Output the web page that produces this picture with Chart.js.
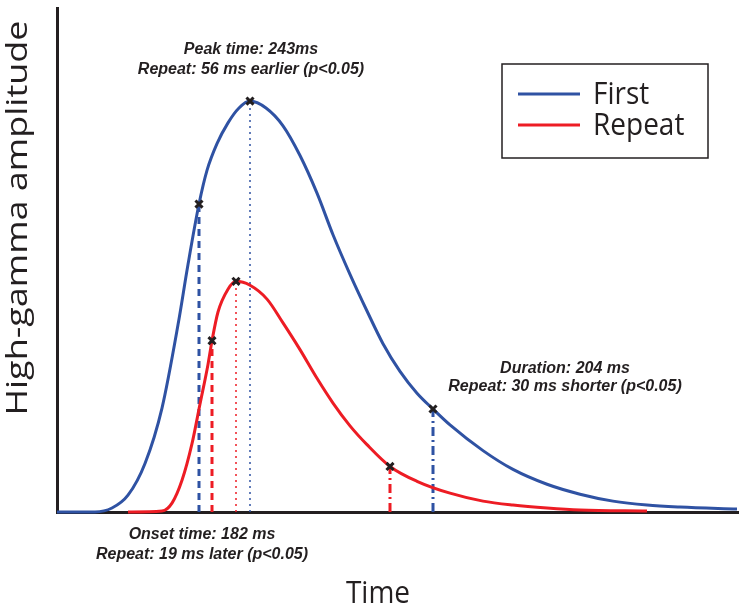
<!DOCTYPE html>
<html>
<head>
<meta charset="utf-8">
<script src="https://cdn.jsdelivr.net/npm/chart.js@4"></script>
<style>
  html, body { margin: 0; padding: 0; background: #fff; }
  #wrap { position: relative; width: 750px; height: 607px; }
</style>
</head>
<body>
<div id="wrap"><canvas id="chart" width="750" height="607"></canvas></div>
<script>
// time and amplitude are arbitrary units (schematic figure, no ticks)
const firstTime = [0, 38, 55, 71, 88, 105, 121, 131, 142, 150, 160, 171, 182, 193, 209, 226, 243, 260, 276, 293, 310, 326, 343, 360, 376, 393, 426, 456, 490, 523, 556, 590, 623, 680];
const firstAmp = [0, 0, 4, 17, 49, 105, 189, 250, 311, 345, 372, 393, 408, 415, 408, 390, 360, 322, 280, 240, 203, 170, 142, 120, 104, 88, 62, 43, 28, 18, 11, 7, 5, 3];

const repeatTime = [71, 105, 115, 125, 135, 143, 151, 155, 161, 171, 179, 193, 210, 226, 243, 260, 276, 293, 310, 333, 360, 393, 426, 456, 490, 523, 590];
const repeatAmp = [0, 1, 9, 32, 69, 109, 149, 173, 202, 225, 233, 229, 215, 191, 164, 135, 110, 87, 68, 46, 31, 19, 11, 7, 4, 2, 1];

// onset, peak, offset
const firstEventTime = [142, 193, 376];
const firstEventAmp = [311, 415, 104];
const repeatEventTime = [155, 179, 333];
const repeatEventAmp = [173, 233, 46];

const seriesNames = ["First", "Repeat"];

const ink = "#231f20";
const blue = "#2f52a3";
const red = "#ed1c24";

function toPoints(xs, ys) {
  return xs.map((x, i) => ({ x: x, y: ys[i] }));
}

// dash style per event: onset dashed, peak dotted, offset dash-dot
const guideStyles = [
  { dash: [7, 5], width: 3 },
  { dash: [2, 4], width: 1.5 },
  { dash: [9, 4, 2, 4], width: 3 },
];

function guideLines(times, amps, color) {
  return times.map((t, i) => ({
    data: [{ x: t, y: 0 }, { x: t, y: amps[i] }],
    borderColor: color,
    borderWidth: guideStyles[i].width,
    borderDash: guideStyles[i].dash,
    pointRadius: 0,
    clip: false,
    order: 3,
  }));
}

const annotations = [
  { lines: ["Peak time: 243ms", "Repeat: 56 ms earlier (p<0.05)"], x: 251, y: 54, gap: 20 },
  { lines: ["Duration: 204 ms", "Repeat: 30 ms shorter (p<0.05)"], x: 565, y: 373, gap: 18 },
  { lines: ["Onset time: 182 ms", "Repeat: 19 ms later (p<0.05)"], x: 202, y: 539, gap: 20 },
];

const textPlugin = {
  id: "textPlugin",
  afterDraw(chart) {
    const ctx = chart.ctx;
    ctx.save();
    ctx.fillStyle = ink;

    // annotations
    ctx.font = 'italic bold 16px "Liberation Sans"';
    ctx.textAlign = "center";
    ctx.textBaseline = "alphabetic";
    annotations.forEach((a) => {
      a.lines.forEach((line, i) => ctx.fillText(line, a.x, a.y + i * a.gap));
    });

    // legend box
    ctx.strokeStyle = ink;
    ctx.lineWidth = 1.5;
    ctx.strokeRect(502, 64, 206, 94);
    const legendColors = [blue, red];
    const rowY = [94, 125];
    ctx.lineWidth = 3;
    ctx.font = '28px "Open Sans"';
    ctx.textAlign = "left";
    seriesNames.forEach((name, i) => {
      ctx.strokeStyle = legendColors[i];
      ctx.beginPath();
      ctx.moveTo(518, rowY[i]);
      ctx.lineTo(580, rowY[i]);
      ctx.stroke();
      ctx.save();
      ctx.translate(593, rowY[i] + 10);
      ctx.scale(1, 1.08);
      ctx.fillText(name, 0, 0);
      ctx.restore();
    });

    // axis titles
    ctx.textAlign = "center";
    ctx.save();
    ctx.translate(378, 603);
    ctx.scale(1, 1.08);
    ctx.fillText("Time", 0, 0);
    ctx.restore();

    ctx.font = '30px "Open Sans"';
    ctx.save();
    ctx.translate(27, 218);
    ctx.rotate(-Math.PI / 2);
    ctx.scale(1.2, 1);
    ctx.fillText("High-gamma amplitude", 0, 0);
    ctx.restore();

    ctx.restore();
  },
};

const ctx = document.getElementById("chart").getContext("2d");

new Chart(ctx, {
  type: "line",
  data: {
    datasets: [
      {
        label: "markers",
        data: toPoints(firstEventTime.concat(repeatEventTime), firstEventAmp.concat(repeatEventAmp)),
        showLine: false,
        pointStyle: "crossRot",
        pointRadius: 5,
        pointBorderWidth: 3,
        pointBorderColor: ink,
        pointBackgroundColor: ink,
        clip: false,
        order: 0,
      },
      {
        label: seriesNames[0],
        data: toPoints(firstTime, firstAmp),
        borderColor: blue,
        borderWidth: 3,
        pointRadius: 0,
        cubicInterpolationMode: "monotone",
        clip: false,
        order: 1,
      },
      {
        label: seriesNames[1],
        data: toPoints(repeatTime, repeatAmp),
        borderColor: red,
        borderWidth: 3,
        pointRadius: 0,
        cubicInterpolationMode: "monotone",
        clip: false,
        order: 2,
      },
      ...guideLines(firstEventTime, firstEventAmp, blue),
      ...guideLines(repeatEventTime, repeatEventAmp, red),
    ],
  },
  options: {
    responsive: false,
    animation: false,
    devicePixelRatio: 1,
    layout: {
      padding: { left: 57, top: 3, right: 12, bottom: 95 },
    },
    plugins: {
      legend: { display: false },
      tooltip: { enabled: false },
    },
    scales: {
      x: {
        type: "linear",
        min: 0,
        max: 681,
        ticks: { display: false },
        grid: { display: false, drawTicks: false },
        border: { color: ink, width: 3 },
      },
      y: {
        min: 0,
        max: 509,
        ticks: { display: false },
        grid: { display: false, drawTicks: false },
        border: { color: ink, width: 3 },
      },
    },
  },
  plugins: [textPlugin],
});
</script>
</body>
</html>
